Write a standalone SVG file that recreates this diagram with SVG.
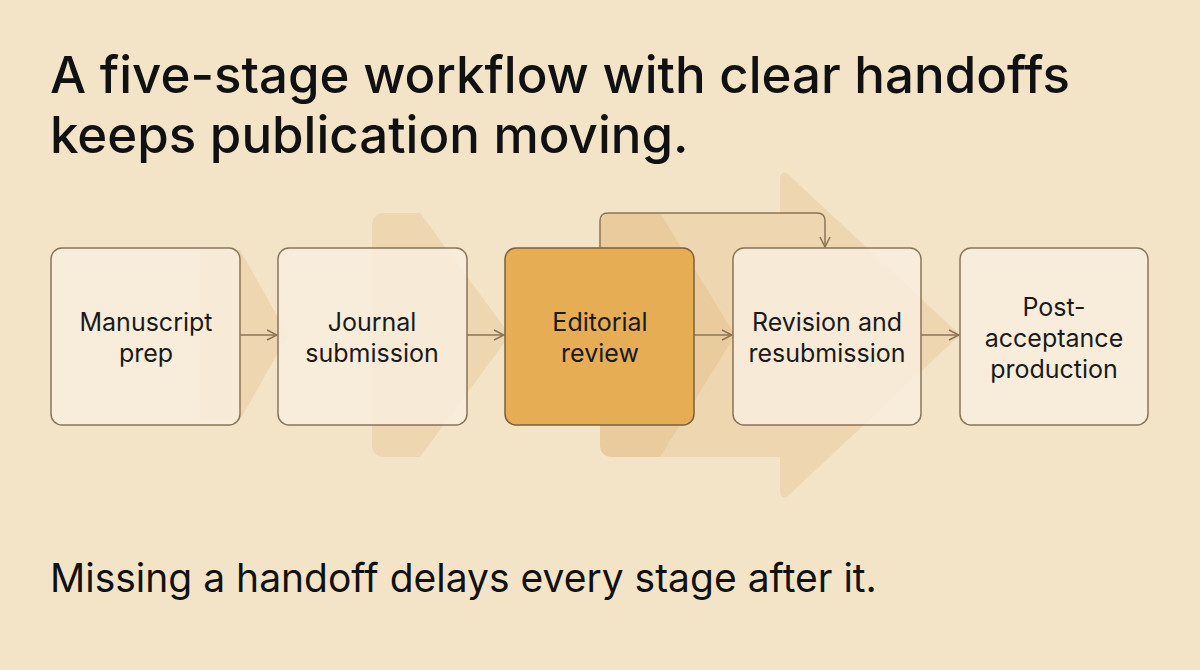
<svg xmlns="http://www.w3.org/2000/svg" width="1200" height="670" viewBox="0 0 1200 670">
<defs>
<style>
.t{font-family:Inter,"Liberation Sans",sans-serif;fill:#111}
.box{fill:#f9efe0;fill-opacity:0.8;stroke:#8a7458;stroke-width:1.5}
.lbl{font-family:Inter,"Liberation Sans",sans-serif;font-size:25px;fill:#1a1a1a;text-anchor:middle}
.bg{fill:#d9a55a;fill-opacity:0.22}
.c{fill:none;stroke:#8a7458;stroke-width:1.5}
</style>
<marker id="ah" viewBox="0 0 12 12" refX="11" refY="6" markerWidth="12" markerHeight="12" markerUnits="userSpaceOnUse" orient="auto"><path d="M1,1 L11,6 L1,11" fill="none" stroke="#8a7458" stroke-width="1.5"/></marker>
</defs>
<rect width="1200" height="670" fill="#f3e4c8"/>
<text class="t" x="50" y="93" font-size="51" font-weight="500">A five-stage workflow with clear handoffs</text>
<text class="t" x="50" y="153" font-size="51" font-weight="500">keeps publication moving.</text>
<g id="background">
<path class="bg" d="M200,250 L240,250 L288,335 L240,420 L200,420 Z"/>
<path class="bg" d="M385,213 L420,213 L510,335 L420,457 L385,457 Q372,457 372,444 L372,226 Q372,213 385,213 Z"/>
<path class="bg" d="M613,213 L660,213 L735,335 L660,457 L613,457 Q600,457 600,444 L600,226 Q600,213 613,213 Z"/>
<path class="bg" d="M613,213 L780,213 L780,178 Q782,168 790,176 L960,335 L790,494 Q782,502 780,492 L780,457 L613,457 Q600,457 600,444 L600,226 Q600,213 613,213 Z"/>
</g>
<g id="connectors">
<line class="c" x1="240" y1="335" x2="277" y2="335" marker-end="url(#ah)"/>
<line class="c" x1="467" y1="335" x2="504" y2="335" marker-end="url(#ah)"/>
<line class="c" x1="694" y1="335" x2="732" y2="335" marker-end="url(#ah)"/>
<line class="c" x1="921" y1="335" x2="959" y2="335" marker-end="url(#ah)"/>
<path class="c" d="M600,248 L600,221 Q600,213 608,213 L817,213 Q825,213 825,221 L825,247" marker-end="url(#ah)"/>
</g>
<g id="n1"><rect class="box" x="51" y="248" width="189" height="177" rx="11"/><text class="lbl" x="146" y="331">Manuscript</text><text class="lbl" x="146" y="362">prep</text></g>
<g id="n2"><rect class="box" x="278" y="248" width="189" height="177" rx="11"/><text class="lbl" x="372" y="331">Journal</text><text class="lbl" x="372" y="362">submission</text></g>
<g id="n3"><rect x="505" y="248" width="189" height="177" rx="11" fill="#e6ad55" stroke="#7a6040" stroke-width="1.5"/><text class="lbl" x="600" y="331">Editorial</text><text class="lbl" x="600" y="362">review</text></g>
<g id="n4"><rect class="box" x="733" y="248" width="188" height="177" rx="11"/><text class="lbl" x="827" y="331">Revision and</text><text class="lbl" x="827" y="362">resubmission</text></g>
<g id="n5"><rect class="box" x="960" y="248" width="188" height="177" rx="11"/><text class="lbl" x="1054" y="316">Post-</text><text class="lbl" x="1054" y="347">acceptance</text><text class="lbl" x="1054" y="378">production</text></g>
<text class="t" x="50" y="592" font-size="39">Missing a handoff delays every stage after it.</text>
</svg>
